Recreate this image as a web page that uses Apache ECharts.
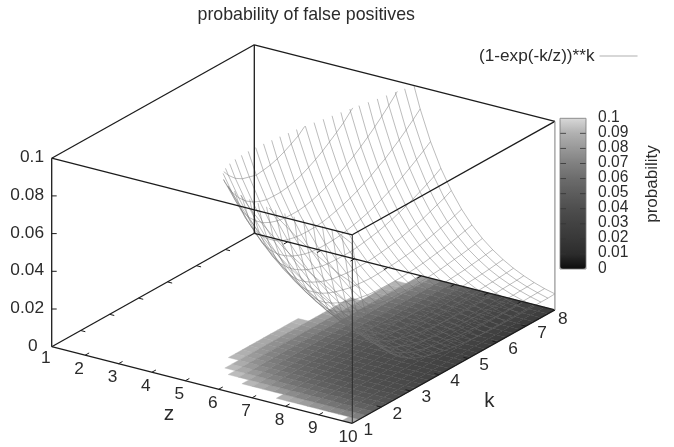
<!DOCTYPE html>
<html><head><meta charset="utf-8">
<style>html,body{margin:0;padding:0;background:#fff}#c{width:674px;height:447px}</style>
<script src="https://cdn.jsdelivr.net/npm/echarts@6/dist/echarts.min.js"></script>
</head><body><div id="c"></div>
<script>
const titleText = 'probability of false positives';
const seriesName = '(1-exp(-k/z))**k';
const cbName = 'probability';
const zValues = [1,1.310,1.621,1.931,2.241,2.552,2.862,3.172,3.483,3.793,4.103,4.414,4.724,5.034,5.345,5.655,5.966,6.276,6.586,6.897,7.207,7.517,7.828,8.138,8.448,8.759,9.069,9.379,9.690,10];
const kValues = [1,1.241,1.483,1.724,1.966,2.207,2.448,2.690,2.931,3.172,3.414,3.655,3.897,4.138,4.379,4.621,4.862,5.103,5.345,5.586,5.828,6.069,6.310,6.552,6.793,7.034,7.276,7.517,7.759,8];
const zTicks = [1,2,3,4,5,6,7,8,9,10];
const kTicks = [1,2,3,4,5,6,7,8];
const pTicks = ['0','0.02','0.04','0.06','0.08','0.1'];
const cbTicks = ['0','0.01','0.02','0.03','0.04','0.05','0.06','0.07','0.08','0.09','0.1'];
const _ = null;
// probability at each z (outer) and k (inner); blank where far above the 0.1 ceiling
const probByZ = [
[],[],[],[],[],[],[],[],[],[],[],[],
[_,_,_,_,_,_,.1087,.1057,.1040,.1032,.1032,.1040,.1055,.1077,.1100,.1130,.1159,_,_,_,_,_,_,_,_,_,_,_,_,_],
[_,_,_,.1184,.1084,.1017,.0967,.0930,.0907,.0896,.0885,.0890,.0897,.0909,.0926,.0947,.0969,.1002,.1031,.1070,.1108,.1151,.1199,_,_,_,_,_,_,_],
[_,_,.122,.1084,.0987,.0914,.0862,.0824,.0798,.0780,.0769,.0767,.0767,.0773,.0783,.0797,.0816,.0837,.0861,.0889,.0918,.0949,.0988,.1025,.1067,.1111,.1158,.1208,_,_],
[_,_,.1135,.0998,.0905,.0826,.0771,.0732,.0702,.0683,.0670,.0663,.0661,.0661,.0666,.0675,.0688,.0703,.0721,.0740,.0762,.0787,.0816,.0846,.0879,.0914,.0951,.0991,.1033,.1077],
[_,.1255,.1058,.0925,.0824,.0749,.0695,.0654,.0623,.0598,.0585,.0575,.0570,.0569,.0570,.0574,.0582,.0593,.0605,.0619,.0636,.0655,.0677,.0701,.0724,.0753,.0782,.0814,.0848,.0884],
[_,.1186,.0991,.0856,.0755,.0681,.0629,.0587,.0556,.0532,.0515,.0502,.0494,.0490,.0490,.0491,.0495,.0502,.0511,.0521,.0533,.0547,.0564,.0582,.0600,.0622,.0646,.0671,.0697,.0725],
[_,.1122,.0928,.0796,.0698,.0624,.0570,.0529,.0497,.0473,.0454,.0442,.0431,.0426,.0424,.0423,.0423,.0427,.0433,.0440,.0448,.0459,.0471,.0485,.0500,.0517,.0535,.0554,.0574,.0597],
[_,.1066,.0874,.0741,.0644,.0574,.0520,.0477,.0446,.0422,.0403,.0388,.0377,.0371,.0366,.0363,.0364,.0364,.0368,.0373,.0379,.0386,.0395,.0406,.0417,.0429,.0444,.0459,.0474,.0493],
[.1296,.1015,.0825,.0693,.0600,.0529,.0474,.0433,.0403,.0377,.0358,.0344,.0333,.0323,.0319,.0315,.0312,.0314,.0315,.0318,.0322,.0327,.0333,.0341,.0349,.0359,.0370,.0381,.0394,.0408],
[.1246,.0966,.0780,.0649,.0556,.0488,.0435,.0396,.0363,.0339,.0320,.0305,.0293,.0285,.0278,.0274,.0272,.0271,.0270,.0271,.0274,.0277,.0281,.0287,.0294,.0300,.0308,.0318,.0328,.0338],
[.1199,.0923,.0738,.0611,.0519,.0451,.0401,.0360,.0330,.0306,.0287,.0272,.0260,.0250,.0244,.0239,.0235,.0234,.0233,.0232,.0234,.0236,.0239,.0242,.0247,.0253,.0258,.0265,.0273,.0281],
[.1156,.0880,.0702,.0575,.0486,.0417,.0369,.0330,.0300,.0275,.0258,.0243,.0232,.0222,.0214,.0209,.0205,.0202,.0201,.0200,.0200,.0202,.0203,.0206,.0209,.0212,.0218,.0223,.0229,.0235],
[.1116,.0843,.0666,.0543,.0454,.0389,.0340,.0304,.0274,.0251,.0233,.0218,.0207,.0196,.0189,.0184,.0179,.0176,.0174,.0173,.0172,.0172,.0174,.0175,.0178,.0180,.0183,.0187,.0192,.0197],
[.1079,.0811,.0635,.0513,.0427,.0363,.0316,.0279,.0250,.0229,.0210,.0196,.0185,.0175,.0168,.0161,.0158,.0154,.0151,.0150,.0149,.0148,.0149,.0150,.0151,.0153,.0155,.0158,.0161,.0165],
[.1044,.0778,.0604,.0485,.0401,.0341,.0294,.0258,.0230,.0208,.0192,.0177,.0166,.0157,.0149,.0143,.0138,.0135,.0132,.0130,.0128,.0128,.0128,.0128,.0129,.0130,.0132,.0134,.0136,.0139],
[.1011,.0746,.0578,.0461,.0377,.0317,.0273,.0238,.0211,.0191,.0174,.0160,.0149,.0140,.0133,.0127,.0122,.0119,.0115,.0114,.0112,.0111,.0110,.0110,.0110,.0111,.0112,.0114,.0115,.0117],
[.0981,.0722,.0551,.0438,.0357,.0298,.0254,.0221,.0195,.0175,.0158,.0145,.0135,.0126,.0119,.0114,.0109,.0104,.0102,.0099,.0098,.0096,.0095,.0095,.0095,.0095,.0096,.0097,.0098,.0099],
[.0952,.0695,.0529,.0417,.0338,.0280,.0238,.0205,.0180,.0160,.0145,.0132,.0122,.0114,.0107,.0101,.0096,.0093,.0090,.0087,.0085,.0084,.0083,.0082,.0082,.0082,.0082,.0083,.0083,.0085]
];

const CEIL = 0.1, FONT = '"Liberation Sans", Arial, sans-serif', INK = '#2b2b2b';
const ORIGIN = [51.7, 346.7], ZVEC = [300.6, 76.6], KVEC = [202.6, -113.4], PHEIGHT = 188.5;
const project = (z, k, p) => [
  ORIGIN[0] + (z - 1) / 9 * ZVEC[0] + (k - 1) / 7 * KVEC[0],
  ORIGIN[1] + (z - 1) / 9 * ZVEC[1] + (k - 1) / 7 * KVEC[1] - p / CEIL * PHEIGHT
];
const pAt = (i, j) => { const r = probByZ[i]; return r && r[j] != null ? r[j] : null; };

// pm3d floor cells: only where all four corners are inside the range
const floorCells = [];
for (let i = 0; i < 29; i++) for (let j = 0; j < 29; j++) {
  const c = [pAt(i, j), pAt(i + 1, j), pAt(i, j + 1), pAt(i + 1, j + 1)];
  if (c.some(v => v == null || v > CEIL)) continue;
  floorCells.push([i, j, (c[0] + c[1] + c[2] + c[3]) / 4]);
}
// wire segments, clipped at the ceiling
const wireSegs = [];
const addSeg = (i1, j1, i2, j2) => {
  let a = pAt(i1, j1), b = pAt(i2, j2);
  if (a == null || b == null || (a > CEIL && b > CEIL)) return;
  let A = [zValues[i1], kValues[j1], a], B = [zValues[i2], kValues[j2], b];
  const cut = (P, Q) => { const t = (CEIL - P[2]) / (Q[2] - P[2]); return [P[0] + t * (Q[0] - P[0]), P[1] + t * (Q[1] - P[1]), CEIL]; };
  if (a > CEIL) A = cut(A, B); else if (b > CEIL) B = cut(A, B);
  wireSegs.push([...project(...A), ...project(...B)]);
};
for (let i = 0; i < 30; i++) for (let j = 0; j < 30; j++) {
  if (i < 29) addSeg(i, j, i + 1, j);
  if (j < 29) addSeg(i, j, i, j + 1);
}
// frame
const zA = 1, zB = 10, kA = 1, kB = 8;
const frame = [];
const edge = (a, b, color, w) => frame.push({ a: project(...a), b: project(...b), color: color || '#1c1c1c', w: w || 1.3 });
edge([zA, kA, 0], [zB, kA, 0]); edge([zB, kA, 0], [zB, kB, 0]);
edge([zA, kA, 0], [zA, kB, 0]); edge([zA, kB, 0], [zB, kB, 0]);
edge([zA, kA, CEIL], [zB, kA, CEIL]); edge([zB, kA, CEIL], [zB, kB, CEIL]);
edge([zA, kA, CEIL], [zA, kB, CEIL]); edge([zA, kB, CEIL], [zB, kB, CEIL]);
edge([zA, kA, 0], [zA, kA, CEIL]); edge([zA, kB, 0], [zA, kB, CEIL]);
edge([zB, kA, 0], [zB, kA, CEIL], '#2a2a2a', 1); edge([zB, kB, 0], [zB, kB, CEIL], '#9a9a9a', 1.3);
zTicks.slice(1, -1).forEach(z => {
  edge([z, kA, 0], [z, kA + 0.14, 0], '#1c1c1c', 1);
  edge([z, kB, 0], [z, kB - 0.14, 0], '#1c1c1c', 1);
});
kTicks.slice(1, -1).forEach(k => {
  edge([zA, k, 0], [zA + 0.14, k, 0], '#1c1c1c', 1);
  edge([zB, k, 0], [zB - 0.14, k, 0], '#1c1c1c', 1);
});
pTicks.slice(1, -1).forEach(t => {
  const q = project(zA, kA, +t);
  frame.push({ a: q, b: [q[0] + 5, q[1]], color: '#1c1c1c', w: 1 });
});
// colour bar geometry
const CB = { x: 560, y: 118.3, w: 26, h: 150.7 };
const cbY = v => CB.y + (CEIL - v) / CEIL * CB.h;
cbTicks.slice(1, -1).forEach(t => {
  const y = cbY(+t);
  frame.push({ a: [CB.x, y], b: [CB.x + 6, y], color: '#333', w: 0.8 });
  frame.push({ a: [CB.x + CB.w - 6, y], b: [CB.x + CB.w, y], color: '#333', w: 0.8 });
});
[[CB.x, CB.y, CB.x + CB.w, CB.y], [CB.x + CB.w, CB.y, CB.x + CB.w, CB.y + CB.h], [CB.x + CB.w, CB.y + CB.h, CB.x, CB.y + CB.h], [CB.x, CB.y + CB.h, CB.x, CB.y]]
  .forEach(s => frame.push({ a: [s[0], s[1]], b: [s[2], s[3]], color: '#777', w: 0.8 }));

// texts
const labels = [];
const lab = (text, x, y, align, size, rot) => labels.push({ text, x, y, align: align || 'center', size: size || 17.3, rot: rot || 0 });
pTicks.forEach(t => { const q = project(zA, kA, +t); lab(t, t === '0' ? 37.5 : 44, q[1] - 0.8, 'right'); });
zTicks.forEach(z => { const q = project(z, kA, 0); lab(String(z), q[0] + (z === 1 ? -6 : z === 10 ? -4.3 : -6), q[1] + (z === 1 ? 11.5 : 13.6)); });
kTicks.forEach(k => { const q = project(zB, k, 0); lab(String(k), q[0] + (k === 8 ? 8 : 16), q[1] + (k === 8 ? 9 : 6.7)); });
lab('z', 169, 414.5, 'center', 21); lab('k', 489.3, 401, 'center', 20.5);
cbTicks.forEach(t => lab(t, 598, cbY(+t) - 0.8, 'left', 15.6));
lab(cbName, 652.7, 184, 'center', 17, Math.PI / 2);

const chart = echarts.init(document.getElementById('c'), null, { renderer: 'canvas' });
chart.setOption({
  animation: false,
  backgroundColor: '#fff',
  textStyle: { fontFamily: FONT },
  title: { text: titleText, left: 197.5, top: 6.5, padding: 0, textStyle: { fontSize: 17.8, fontWeight: 'normal', color: INK, fontFamily: FONT } },
  legend: {
    left: 479, top: 47.5, padding: 0, itemGap: 0, itemWidth: 38, itemHeight: 1, align: 'right', selectedMode: false,
    data: [{ name: seriesName, icon: 'rect' }],
    textStyle: { fontSize: 17.2, color: INK, fontFamily: FONT, padding: [0, 0, 0, 0] }
  },
  grid: { left: 0, right: 0, top: 0, bottom: 0, show: false },
  xAxis: { type: 'value', min: 0, max: 674, show: false },
  yAxis: { type: 'value', min: 0, max: 447, inverse: true, show: false },
  visualMap: {
    type: 'continuous', min: 0, max: CEIL, seriesIndex: 0, dimension: 2, left: CB.x, top: CB.y, padding: 0,
    itemWidth: CB.w, itemHeight: CB.h, calculable: false, hoverLink: false, text: null, showLabel: false,
    inRange: { color: ['#0c0c0c', '#2c2c2c', '#383838', '#424242', '#4e4e4e', '#5c5c5c', '#6c6c6c', '#808080', '#989898', '#b0b0b0', '#d8d8d8'] }
  },
  series: [
    {
      type: 'custom', name: 'floor', coordinateSystem: 'cartesian2d', silent: true, z: 2, clip: false, data: floorCells, progressive: 0,
      renderItem(params, api) {
        const i = api.value(0), j = api.value(1);
        const pts = [[i, j], [i + 1, j], [i + 1, j + 1], [i, j + 1]].map(c => api.coord(project(zValues[c[0]], kValues[c[1]], 0)));
        // the floor is washed out a little compared with the colour bar
        const rgb = echarts.color.parse(api.visual('color'));
        const m = v => Math.round(v * 0.9 + 25);
        const col = 'rgb(' + m(rgb[0]) + ',' + m(rgb[1]) + ',' + m(rgb[2]) + ')';
        return { type: 'polygon', shape: { points: pts }, style: { fill: col, stroke: col, lineWidth: 0.4 } };
      }
    },
    {
      type: 'custom', name: seriesName, coordinateSystem: 'cartesian2d', silent: true, z: 3, clip: false, data: wireSegs, progressive: 0,
      itemStyle: { color: '#b0b0b0' },
      renderItem(params, api) {
        const a = api.coord([api.value(0), api.value(1)]), b = api.coord([api.value(2), api.value(3)]);
        return { type: 'line', shape: { x1: a[0], y1: a[1], x2: b[0], y2: b[1] }, style: { stroke: 'rgba(110,110,110,0.55)', lineWidth: 0.85, fill: null } };
      }
    },
    {
      type: 'custom', name: 'frame', coordinateSystem: 'cartesian2d', silent: true, z: 5, clip: false, data: frame.map((f, n) => [n]), progressive: 0,
      renderItem(params, api) {
        const f = frame[api.value(0)];
        const a = api.coord(f.a), b = api.coord(f.b);
        return { type: 'line', shape: { x1: a[0], y1: a[1], x2: b[0], y2: b[1] }, style: { stroke: f.color, lineWidth: f.w, fill: null } };
      }
    },
    {
      type: 'custom', name: 'labels', coordinateSystem: 'cartesian2d', silent: true, z: 6, clip: false, data: labels.map((f, n) => [n]), progressive: 0,
      renderItem(params, api) {
        const l = labels[api.value(0)];
        const c = api.coord([l.x, l.y]);
        return { type: 'text', x: c[0], y: c[1], rotation: l.rot, style: { text: l.text, align: l.align, verticalAlign: 'middle', fill: INK, font: l.size + 'px ' + FONT } };
      }
    }
  ]
});
</script></body></html>
